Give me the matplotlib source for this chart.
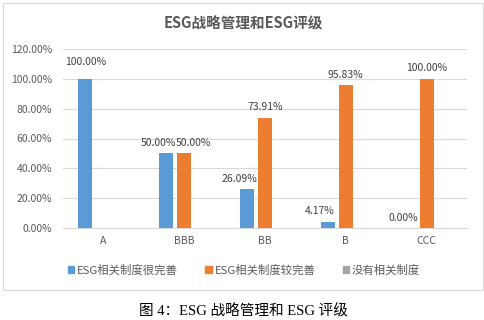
import matplotlib.pyplot as plt
import numpy as np
from matplotlib.patches import Rectangle

plt.rcParams['font.family'] = ['Noto Sans CJK SC', 'DejaVu Sans']

# data
categories = ["A", "BBB", "BB", "B", "CCC"]
series_names = ["ESG相关制度很完善", "ESG相关制度较完善", "没有相关制度"]
very_good = [100.00, 50.00, 26.09, 4.17, 0.00]
fairly_good = [None, 50.00, 73.91, 95.83, 100.00]
none_sys = [None, None, None, None, None]
colors = ["#5b9bd5", "#ed7d31", "#a5a5a5"]

# label nudges (x in category units, y in value units), like the excel original
label_dx = {(0, 1): -0.10, (0, 2): -0.09, (0, 3): -0.10, (0, 4): -0.07, (1, 1): 0.12}
label_dy = {(0, 0): 11.0}

fig = plt.figure(figsize=(4.85, 3.2), dpi=100)
W, H = 485, 320

# outer chart border
fig.patches.append(Rectangle((3 / W, 1 - 290 / H), 480 / W, 287 / H,
                             transform=fig.transFigure, fill=False,
                             edgecolor="#d9d9d9", linewidth=0.8))

ax = fig.add_axes([63 / W, 1 - 228 / H, 404 / W, 179 / H])

x = np.arange(len(categories))
bw = 0.173
step = 0.223
offsets = [-step, 0, step]

for s, (vals, off, col) in enumerate(zip([very_good, fairly_good, none_sys], offsets, colors)):
    for i, v in enumerate(vals):
        if v is None:
            continue
        ax.bar(x[i] + off, v, width=bw, color=col, zorder=3)
        ax.text(x[i] + off + label_dx.get((s, i), 0), v + label_dy.get((s, i), 7.0),
                f"{v:.2f}%", ha="center", va="center",
                fontsize=7.5, color="#404040", zorder=4)

ax.set_xlim(-0.5, len(categories) - 0.5)
ax.set_ylim(0, 120)
ax.set_yticks(np.arange(0, 121, 20))
ax.set_yticklabels([f"{t:.2f}%" for t in np.arange(0, 121, 20)])
ax.set_xticks(x)
ax.set_xticklabels(categories)
ax.tick_params(axis="both", length=0, labelsize=7.5, labelcolor="#595959")
ax.tick_params(axis="x", pad=6)
ax.tick_params(axis="y", pad=8)
ax.grid(axis="y", color="#d9d9d9", linewidth=0.8, zorder=0)
for s in ["top", "right", "left"]:
    ax.spines[s].set_visible(False)
ax.spines["bottom"].set_color("#d9d9d9")

fig.text(243 / W, 1 - 23 / H, "ESG战略管理和ESG评级", ha="center", va="center",
         fontsize=10.5, fontweight="bold", color="#595959")

handles = [Rectangle((0, 0), 1, 1, color=c) for c in colors]
fig.legend(handles, series_names, loc="center", bbox_to_anchor=(244 / W, 1 - 270 / H),
           ncol=3, frameon=False, fontsize=8.2, handlelength=0.55, handleheight=0.55,
           handletextpad=0.25, columnspacing=2.4, labelcolor="#595959")

# caption under the chart, latin parts in a serif face
fig.text(243 / W, 1 - 311 / H, "图 4：ESG 战略管理和 ESG 评级", ha="center", va="center",
         fontsize=10.5, color="#000000", family=["Liberation Serif", "Noto Sans CJK SC"])

fig.savefig("out.png", dpi=100)
